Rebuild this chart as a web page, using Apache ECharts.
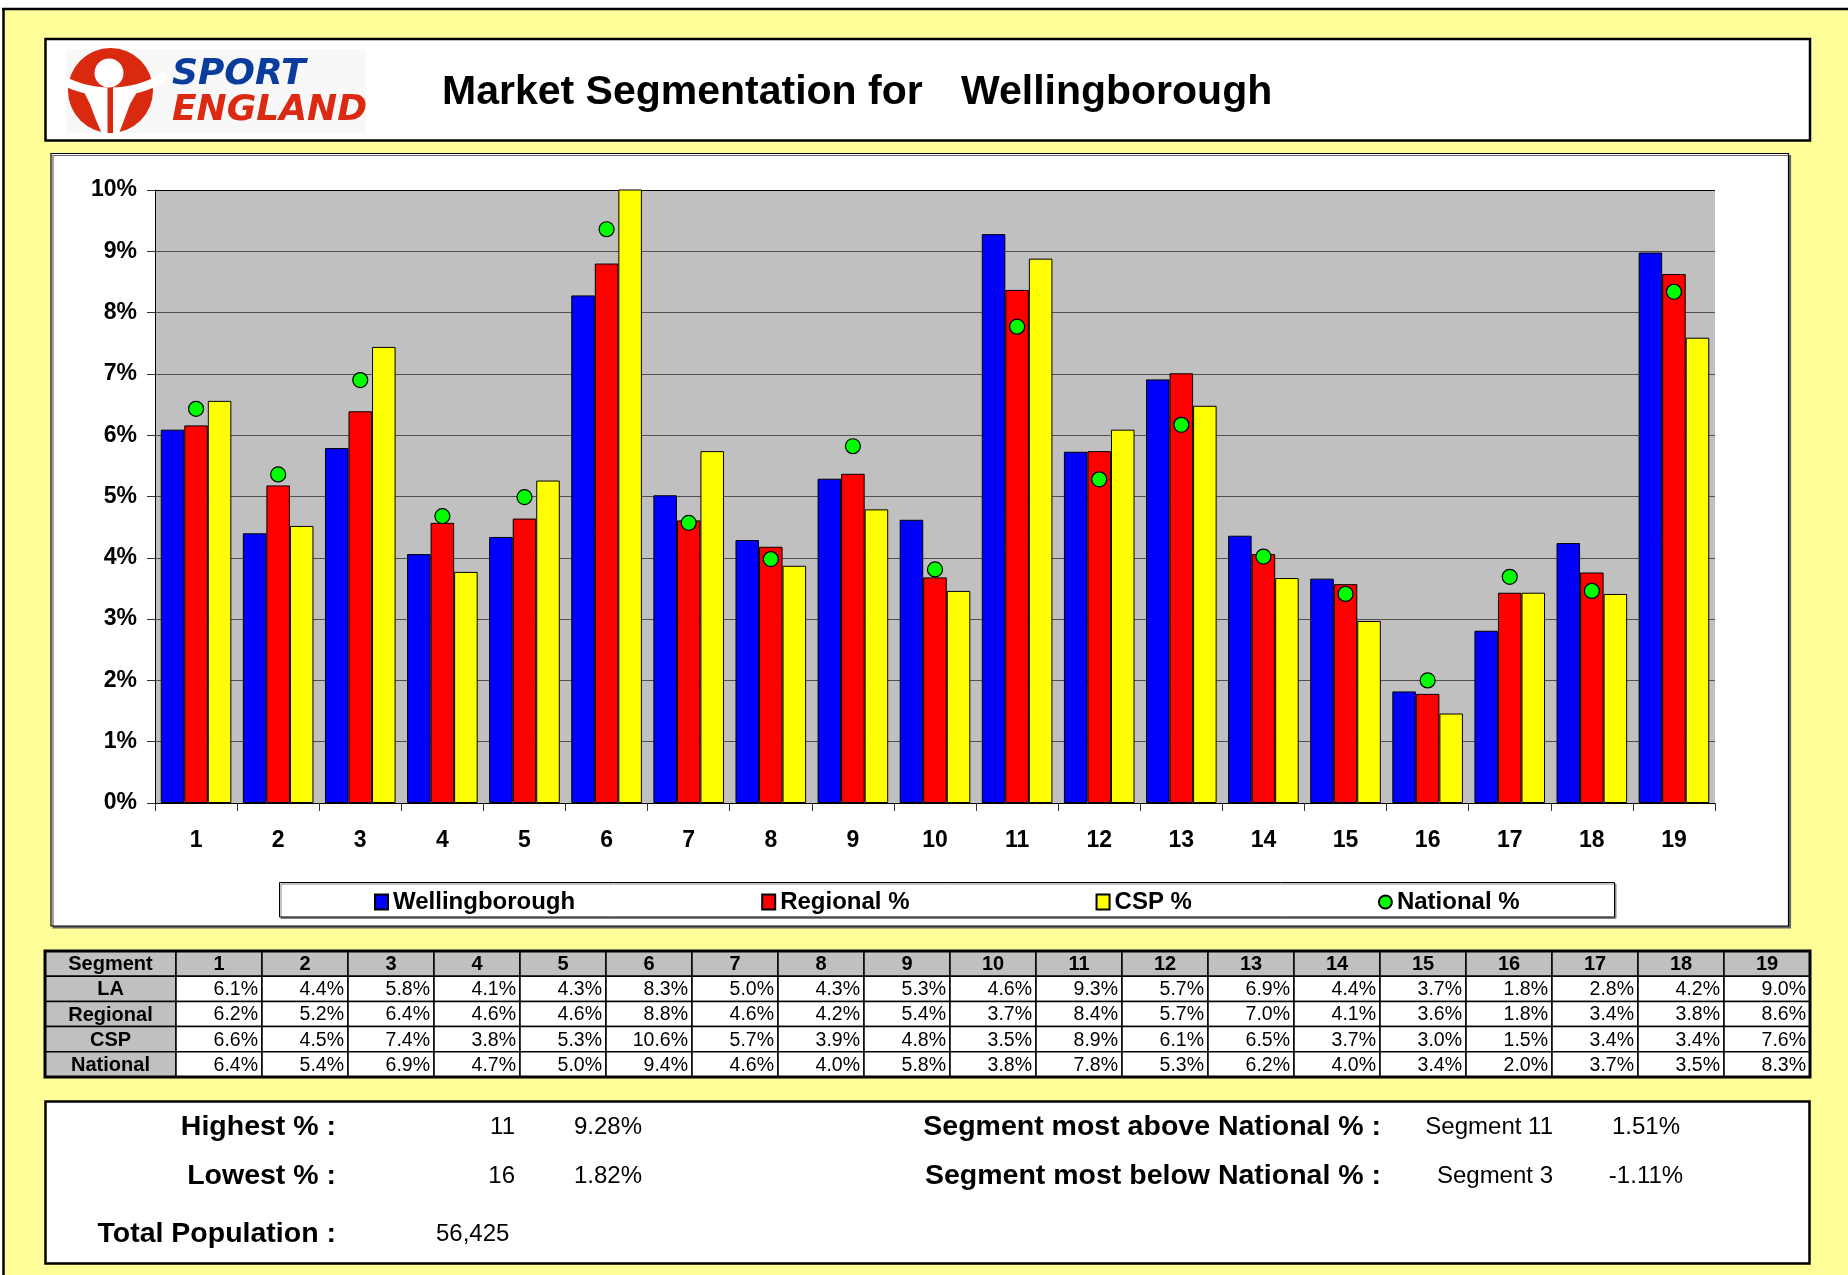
<!DOCTYPE html>
<html>
<head>
<meta charset="utf-8">
<title>Market Segmentation for Wellingborough</title>
<script src="https://cdn.jsdelivr.net/npm/echarts@6/dist/echarts.min.js"></script>
<style>
    html, body { margin: 0; padding: 0; background: #fff; }
    #chart { width: 1848px; height: 1275px; }
</style>
</head>
<body>
<div id="chart"></div>
<script>
// market segments 1..19
var segments = ['1', '2', '3', '4', '5', '6', '7', '8', '9', '10', '11', '12', '13', '14', '15', '16', '17', '18', '19'];
// % of adult population in each segment
var laPct       = [6.09, 4.40, 5.79, 4.06, 4.34, 8.28, 5.02, 4.29, 5.29, 4.62, 9.28, 5.73, 6.91, 4.36, 3.66, 1.82, 2.81, 4.24, 8.98];
var regionalPct = [6.16, 5.18, 6.39, 4.57, 4.64, 8.80, 4.61, 4.18, 5.37, 3.68, 8.37, 5.74, 7.01, 4.06, 3.57, 1.78, 3.43, 3.76, 8.63];
var cspPct      = [6.56, 4.52, 7.44, 3.77, 5.26, 10.6, 5.74, 3.87, 4.79, 3.46, 8.88, 6.09, 6.48, 3.67, 2.97, 1.46, 3.43, 3.41, 7.59];
var nationalPct = [6.43, 5.36, 6.90, 4.68, 4.99, 9.36, 4.57, 3.98, 5.82, 3.81, 7.77, 5.28, 6.17, 4.02, 3.41, 2.00, 3.69, 3.46, 8.34];

var seriesNames = ['Wellingborough', 'Regional %', 'CSP %', 'National %'];
var tableRows = ['LA', 'Regional', 'CSP', 'National'];

// summary panel
var summaryLeft = [['Highest % :', '11', '9.28%'], ['Lowest % :', '16', '1.82%']];
var summaryRight = [['Segment most above National % :', 'Segment 11', '1.51%'], ['Segment most below National % :', 'Segment 3', '-1.11%']];
var totalPopulation = '56,425';

var FONT = "'Liberation Sans', Arial, Helvetica, sans-serif";

function txt(text, x, y, size, weight, align, color, family, style) {
    return {
        type: 'text', z: 20,
        style: {
            text: text, x: x, y: y,
            fill: color || '#000',
            font: (style || 'normal') + ' ' + (weight || 'normal') + ' ' + size + 'px ' + (family || FONT),
            textAlign: align || 'left', align: align || 'left',
            textVerticalAlign: 'middle', verticalAlign: 'middle'
        }
    };
}

var g = [];
// page frame
g.push({type: 'rect', z: -10, shape: {x: 3, y: 9, width: 1845, height: 1266}, style: {fill: '#ffff99'}});
g.push({type: 'line', z: -9, shape: {x1: 2, y1: 9, x2: 1848, y2: 9}, style: {stroke: '#000', lineWidth: 2.5}});
g.push({type: 'line', z: -9, shape: {x1: 3.5, y1: 8, x2: 3.5, y2: 1275}, style: {stroke: '#000', lineWidth: 2.5}});

// header box
g.push({type: 'rect', z: -8, shape: {x: 45.5, y: 39, width: 1764.5, height: 101.5}, style: {fill: '#fff', stroke: '#000', lineWidth: 2.5}});

// sport england logo
g.push({type: 'rect', z: -7, shape: {x: 66, y: 49, width: 300, height: 84}, style: {fill: '#f8f8f8'}});
g.push({type: 'circle', z: 1, shape: {cx: 110.5, cy: 90.5, r: 42.5}, style: {fill: '#d9290f'}});
g.push({type: 'arc', z: 2, shape: {cx: 110.5, cy: -12, r: 104, startAngle: Math.PI * 0.32, endAngle: Math.PI * 0.68},
    style: {stroke: '#fff', lineWidth: 9, fill: null}});
g.push({type: 'polygon', z: 2, shape: {points: [[84, 92], [108, 92], [108, 136], [103, 136], [96, 120], [90, 104]]}, style: {fill: '#fff'}});
g.push({type: 'polygon', z: 2, shape: {points: [[113, 92], [137, 92], [130, 104], [124, 120], [118, 136], [113, 136]]}, style: {fill: '#fff'}});
g.push({type: 'rect', z: 3, shape: {x: 107.5, y: 80, width: 5.5, height: 53}, style: {fill: '#d9290f'}});
g.push({type: 'circle', z: 4, shape: {cx: 109, cy: 73, r: 14.5}, style: {fill: '#fff'}});
g.push(txt('SPORT', 172, 75, 36, 'bold', 'left', '#0a3c9c', "'DejaVu Sans', sans-serif", 'italic'));
g.push(txt('ENGLAND', 172, 111, 36, 'bold', 'left', '#dc2a12', "'DejaVu Sans', sans-serif", 'italic'));

// title
g.push(txt('Market Segmentation for', 442, 93, 41, 'bold', 'left'));
g.push(txt('Wellingborough', 961, 93, 41, 'bold', 'left'));

// chart box and legend box
g.push({type: 'rect', z: -8, shape: {x: 51, y: 153.5, width: 1737.5, height: 772.5},
    style: {fill: '#fff', stroke: '#000', lineWidth: 1.2, shadowColor: '#666', shadowOffsetX: 2, shadowOffsetY: 2, shadowBlur: 0}});
g.push({type: 'rect', z: -7, shape: {x: 279.5, y: 882.5, width: 1335, height: 34.5},
    style: {fill: '#fff', stroke: '#000', lineWidth: 1, shadowColor: '#888', shadowOffsetX: 1.5, shadowOffsetY: 1.5, shadowBlur: 0}});

// data table
var tblLeft = 45, tblTop = 951, firstW = 131, colW = 86, rowH = 25.2;
var tableData = [laPct, regionalPct, cspPct, nationalPct];
for (var r = 0; r < 5; r++) {
    for (var c = 0; c < 20; c++) {
        var x = c == 0 ? tblLeft : tblLeft + firstW + colW * (c - 1);
        var w = c == 0 ? firstW : colW;
        var y = tblTop + rowH * r;
        var grey = (r == 0 || c == 0);
        g.push({type: 'rect', z: 10, shape: {x: x, y: y, width: w, height: rowH},
            style: {fill: grey ? '#c0c0c0' : '#fff', stroke: '#000', lineWidth: 1.5}});
        var label, align = 'center', tx = x + w / 2, weight = 'bold';
        if (r == 0) {
            label = c == 0 ? 'Segment' : segments[c - 1];
        } else if (c == 0) {
            label = tableRows[r - 1];
        } else {
            label = tableData[r - 1][c - 1].toFixed(1) + '%';
            align = 'right'; tx = x + w - 4; weight = 'normal';
        }
        g.push(txt(label, tx, y + rowH / 2 + 1, r == 0 || c == 0 ? 20 : 19.5, weight, align));
    }
}
g.push({type: 'rect', z: 11, shape: {x: tblLeft, y: tblTop, width: firstW + colW * 19, height: rowH * 5},
    style: {fill: null, stroke: '#000', lineWidth: 3}});

// summary box
g.push({type: 'rect', z: -8, shape: {x: 45.5, y: 1101.5, width: 1764, height: 162}, style: {fill: '#fff', stroke: '#000', lineWidth: 2.5}});
var sumY = [1127, 1176];
for (var i = 0; i < 2; i++) {
    g.push(txt(summaryLeft[i][0], 336, sumY[i], 28.5, 'bold', 'right'));
    g.push(txt(summaryLeft[i][1], 515, sumY[i], 24, 'normal', 'right'));
    g.push(txt(summaryLeft[i][2], 574, sumY[i], 24, 'normal', 'left'));
    g.push(txt(summaryRight[i][0], 1381, sumY[i], 28.5, 'bold', 'right'));
    g.push(txt(summaryRight[i][1], 1553, sumY[i], 24, 'normal', 'right'));
    g.push(txt(summaryRight[i][2], 1646, sumY[i], 24, 'normal', 'center'));
}
g.push(txt('Total Population :', 336, 1234, 28.5, 'bold', 'right'));
g.push(txt(totalPopulation, 436, 1234, 24, 'normal', 'left'));

// gridlines: grey, top one black
var gridColors = [];
for (var n = 0; n < 10; n++) gridColors.push('#505050');
gridColors.push('#000');

var myChart = echarts.init(document.getElementById('chart'));
var barStyle = function (color) {
    return {color: color, borderColor: '#000', borderWidth: 1};
};
var option = {
    animation: false,
    backgroundColor: '#fff',
    textStyle: {fontFamily: FONT},
    graphic: {elements: g},
    legend: {
        left: 374, top: 890, padding: 0,
        itemGap: 186, itemWidth: 13, itemHeight: 15,
        selectedMode: false,
        textStyle: {fontSize: 24, fontWeight: 'bold', color: '#000', fontFamily: FONT},
        data: [
            {name: seriesNames[0], icon: 'rect'},
            {name: seriesNames[1], icon: 'rect'},
            {name: seriesNames[2], icon: 'rect'},
            {name: seriesNames[3], icon: 'circle'}
        ]
    },
    grid: {
        left: 155, top: 190, width: 1560, height: 613,
        show: true, backgroundColor: '#c0c0c0', borderWidth: 0,
        outerBoundsMode: 'none'
    },
    xAxis: {
        type: 'category',
        data: segments,
        axisLine: {lineStyle: {color: '#000', width: 1}},
        axisTick: {show: true, interval: 0, length: 8, lineStyle: {color: '#333'}},
        axisLabel: {interval: 0, color: '#000', fontSize: 23, fontWeight: 'bold', margin: 26, fontFamily: FONT},
        splitLine: {show: false}
    },
    yAxis: {
        type: 'value',
        min: 0, max: 10, interval: 1,
        axisLine: {show: true, lineStyle: {color: '#000', width: 1}},
        axisTick: {show: true, length: 8, lineStyle: {color: '#333'}},
        axisLabel: {formatter: '{value}%', color: '#000', fontSize: 23, fontWeight: 'bold', margin: 18, fontFamily: FONT},
        splitLine: {show: true, lineStyle: {color: gridColors, width: 1}}
    },
    series: [
        {name: seriesNames[0], type: 'bar', data: laPct, barGap: '0%', barCategoryGap: '14%', itemStyle: barStyle('#0000ff')},
        {name: seriesNames[1], type: 'bar', data: regionalPct, barGap: '0%', barCategoryGap: '14%', itemStyle: barStyle('#ff0000')},
        {name: seriesNames[2], type: 'bar', data: cspPct, barGap: '0%', barCategoryGap: '14%', itemStyle: barStyle('#ffff00')},
        {
            name: seriesNames[3], type: 'scatter', data: nationalPct, z: 5,
            symbol: 'circle', symbolSize: 15,
            itemStyle: {color: '#00ff00', borderColor: '#000', borderWidth: 1.2, opacity: 1}
        }
    ]
};
myChart.setOption(option);
</script>
</body>
</html>
